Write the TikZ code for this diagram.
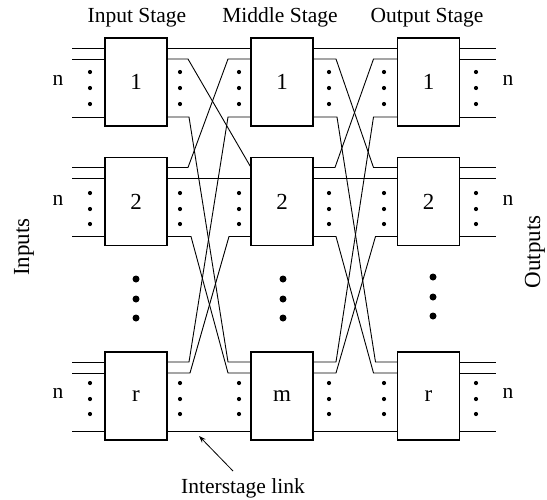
\documentclass[tikz,border=0pt]{standalone}
\usepackage{fontspec}
\setmainfont{Liberation Serif}
\usetikzlibrary{calc,arrows.meta}

\tikzset{
  lbl/.style={font=\fontsize{21.5}{25}\selectfont, inner sep=0pt},
  biglbl/.style={font=\fontsize{23}{27}\selectfont, inner sep=0pt},
  switchbox/.style={draw, line width=1.2pt, minimum width=62pt, minimum height=88pt,
    inner sep=0pt, outer sep=0pt, biglbl},
  wire/.style={line width=0.9pt},
  smalldot/.style={fill=black},
  bigdot/.style={fill=black},
}

\begin{document}
\begin{tikzpicture}[x=1pt,y=-1pt]
\useasboundingbox (0,0) rectangle (547,499);

% column headings
\node[lbl] (hin)  at (137,17.5) {Input Stage};
\node[lbl] (hmid) at (280,17.5) {Middle Stage};
\node[lbl] (hout) at (427,17.5) {Output Stage};

% side labels
\node[biglbl, rotate=90] (lin)  at (24,247) {Inputs};
\node[biglbl, rotate=90] (lout) at (535,252) {Outputs};

% switch boxes: input stage
\node[switchbox] (i1) at (136,82)    {1};
\node[switchbox] (i2) at (136,201.5) {2};
\node[switchbox] (i3) at (136,396)   {r};
% middle stage
\node[switchbox] (m1) at (282,82)    {1};
\node[switchbox] (m2) at (282,201.5) {2};
\node[switchbox] (m3) at (282,396)   {m};
% output stage
\node[switchbox] (o1) at (428.5,82)    {1};
\node[switchbox] (o2) at (428.5,201.5) {2};
\node[switchbox] (o3) at (428.5,396)   {r};

% port points on both sides of every box: first, second and last line
\foreach \b in {i1,i2,i3,m1,m2,m3,o1,o2,o3} {
  \coordinate (\b-wa) at ($(\b.north west)+(0,10)$);
  \coordinate (\b-wb) at ($(\b.north west)+(0,21)$);
  \coordinate (\b-wc) at ($(\b.south west)+(0,-9)$);
  \coordinate (\b-ea) at ($(\b.north east)+(0,10)$);
  \coordinate (\b-eb) at ($(\b.north east)+(0,21)$);
  \coordinate (\b-ec) at ($(\b.south east)+(0,-9)$);
}

% external inputs and outputs
\foreach \b in {i1,i2,i3} {
  \coordinate (\b-xa) at ($(\b-wa)+(-33,0)$);
  \coordinate (\b-xb) at ($(\b-wb)+(-33,0)$);
  \coordinate (\b-xc) at ($(\b-wc)+(-33,0)$);
  \draw[wire] (\b-xa) -- (\b-wa);
  \draw[wire] (\b-xb) -- (\b-wb);
  \draw[wire] (\b-xc) -- (\b-wc);
}
\foreach \b in {o1,o2,o3} {
  \coordinate (\b-xa) at ($(\b-ea)+(36,0)$);
  \coordinate (\b-xb) at ($(\b-eb)+(36,0)$);
  \coordinate (\b-xc) at ($(\b-ec)+(36,0)$);
  \draw[wire] (\b-ea) -- (\b-xa);
  \draw[wire] (\b-eb) -- (\b-xb);
  \draw[wire] (\b-ec) -- (\b-xc);
}

% interstage links: input stage -> middle stage
\draw[wire] (i1-ea) -- (m1-wa);
\draw[wire] (i1-eb) -- +(21,0) -- (m2-wa);
\draw[wire] (i1-ec) -- +(22,0) -- ($(m3-wa)+(-23,0)$) -- (m3-wa);
\draw[wire] (i2-ea) -- +(21,0) -- ($(m1-wb)+(-23,0)$) -- (m1-wb);
\draw[wire] (i2-eb) -- (m2-wb);
\draw[wire] (i2-ec) -- +(24,0) -- ($(m3-wb)+(-23,0)$) -- (m3-wb);
\draw[wire] (i3-ea) -- +(22,0) -- ($(m1-wc)+(-23,0)$) -- (m1-wc);
\draw[wire] (i3-eb) -- +(23,0) -- ($(m2-wc)+(-22,0)$) -- (m2-wc);
\draw[wire] (i3-ec) -- (m3-wc);

% interstage links: middle stage -> output stage
\draw[wire] (m1-ea) -- (o1-wa);
\draw[wire] (m1-eb) -- +(23,0) -- ($(o2-wa)+(-24,0)$) -- (o2-wa);
\draw[wire] (m1-ec) -- +(24,0) -- ($(o3-wa)+(-22,0)$) -- (o3-wa);
\draw[wire] (m2-ea) -- +(22,0) -- ($(o1-wb)+(-24,0)$) -- (o1-wb);
\draw[wire] (m2-eb) -- (o2-wb);
\draw[wire] (m2-ec) -- +(23,0) -- ($(o3-wb)+(-24,0)$) -- (o3-wb);
\draw[wire] (m3-ea) -- +(23,0) -- ($(o1-wc)+(-24,0)$) -- (o1-wc);
\draw[wire] (m3-eb) -- +(23,0) -- ($(o2-wc)+(-22,0)$) -- (o2-wc);
\draw[wire] (m3-ec) -- (o3-wc);

% vertical ellipses between the lines of each bundle
\foreach \x in {90,180,239,329,384,476} {
  \foreach \y in {72,88,104, 193,209,224, 383,399,414} {
    \fill[smalldot] (\x,\y) circle (2.1);
  }
}

% ellipses between the rows of boxes
\foreach \y in {279,299,318} {
  \fill[bigdot] (136,\y) circle (3.5);
  \fill[bigdot] (283,\y) circle (3.5);
}
\foreach \y in {277,297,316} {
  \fill[bigdot] (433,\y) circle (3.5);
}

% bundle sizes
\foreach \y [count=\k] in {80,200,393} {
  \node[lbl] (nl\k) at (58,\y) {n};
  \node[lbl] (nr\k) at (508,\y) {n};
}

% interstage link callout
\node[lbl] (link) at (243,488) {Interstage link};
\coordinate (linktip) at (199,436);
\draw[line width=0.8pt, -{Stealth[length=7pt,width=5pt]}] (233,471) -- (linktip);
\end{tikzpicture}
\end{document}
